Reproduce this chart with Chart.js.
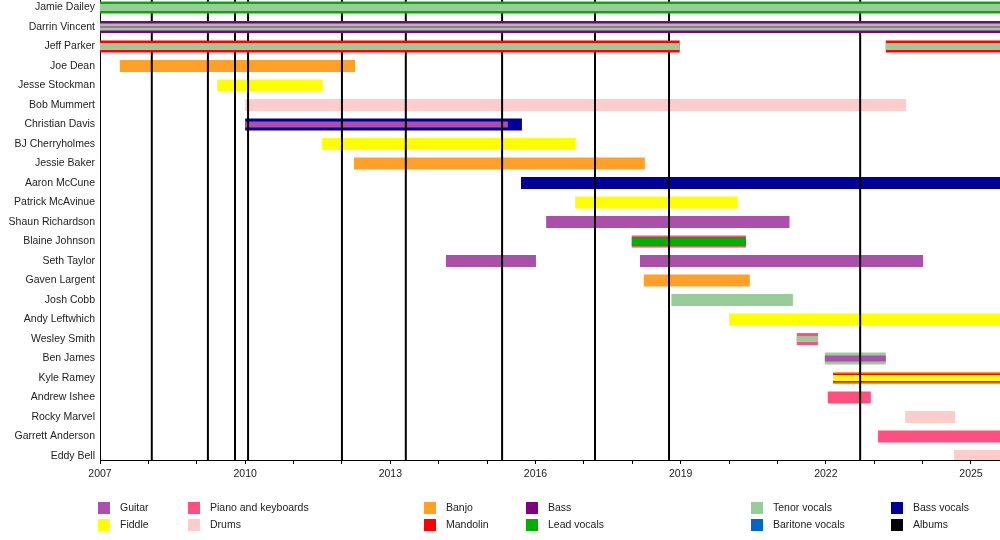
<!DOCTYPE html>
<html>
<head>
<meta charset="utf-8">
<script src="https://cdn.jsdelivr.net/npm/chart.js@4.4.1/dist/chart.umd.min.js"></script>
<style>
  body { margin: 0; background: #fff; }
  #wrap { width: 1000px; height: 540px; }
</style>
</head>
<body>
<div id="wrap"><canvas id="timeline"></canvas></div>
<script>
const members = [
  'Jamie Dailey', 'Darrin Vincent', 'Jeff Parker', 'Joe Dean', 'Jesse Stockman',
  'Bob Mummert', 'Christian Davis', 'BJ Cherryholmes', 'Jessie Baker', 'Aaron McCune',
  'Patrick McAvinue', 'Shaun Richardson', 'Blaine Johnson', 'Seth Taylor', 'Gaven Largent',
  'Josh Cobb', 'Andy Leftwhich', 'Wesley Smith', 'Ben James', 'Kyle Ramey',
  'Andrew Ishee', 'Rocky Marvel', 'Garrett Anderson', 'Eddy Bell'
];
const founders = ['Jamie Dailey', 'Darrin Vincent', 'Jeff Parker'];

const roles = [
  'Guitar', 'Fiddle', 'Piano and keyboards', 'Drums', 'Banjo', 'Mandolin',
  'Bass', 'Lead vocals', 'Tenor vocals', 'Baritone vocals', 'Bass vocals', 'Albums'
];
const roleColors = [
  '#aa4faa', '#ffff00', '#ff4f80', '#ffcccc', '#ffa028', '#ff0000',
  '#7f007f', '#00b000', '#99cc99', '#0066cc', '#000099', '#000000'
];

const tickLabels = ['2007', '2010', '2013', '2016', '2019', '2022', '2025'];
const start = 2007;
const present = 2025.6;

const albums = [2008.07, 2009.23, 2009.79, 2010.06, 2012.0, 2013.32, 2015.31, 2017.23, 2018.76, 2022.71];

// [member, from, to, role]
const mainBars = [
  ['Jamie Dailey', 2007, present, 'Lead vocals'],
  ['Darrin Vincent', 2007, present, 'Bass'],
  ['Jeff Parker', 2007, 2018.98, 'Mandolin'],
  ['Jeff Parker', 2023.24, present, 'Mandolin'],
  ['Joe Dean', 2007.41, 2012.27, 'Banjo'],
  ['Jesse Stockman', 2009.42, 2011.6, 'Fiddle'],
  ['Bob Mummert', 2010.0, 2023.66, 'Drums'],
  ['Christian Davis', 2010.0, 2015.72, 'Bass vocals'],
  ['BJ Cherryholmes', 2011.59, 2016.83, 'Fiddle'],
  ['Jessie Baker', 2012.25, 2018.26, 'Banjo'],
  ['Aaron McCune', 2015.7, present, 'Bass vocals'],
  ['Patrick McAvinue', 2016.82, 2020.18, 'Fiddle'],
  ['Shaun Richardson', 2016.22, 2021.25, 'Guitar'],
  ['Blaine Johnson', 2017.99, 2020.35, 'Piano and keyboards'],
  ['Seth Taylor', 2014.15, 2016.01, 'Guitar'],
  ['Seth Taylor', 2018.16, 2024.01, 'Guitar'],
  ['Gaven Largent', 2018.24, 2020.43, 'Banjo'],
  ['Josh Cobb', 2018.81, 2021.32, 'Tenor vocals'],
  ['Andy Leftwhich', 2020.0, present, 'Fiddle'],
  ['Wesley Smith', 2021.4, 2021.84, 'Piano and keyboards'],
  ['Ben James', 2021.98, 2023.24, 'Tenor vocals'],
  ['Kyle Ramey', 2022.15, present, 'Banjo'],
  ['Andrew Ishee', 2022.04, 2022.93, 'Piano and keyboards'],
  ['Rocky Marvel', 2023.64, 2024.67, 'Drums'],
  ['Garrett Anderson', 2023.08, present, 'Piano and keyboards'],
  ['Eddy Bell', 2024.65, present, 'Drums']
];

const wideBars = [
  ['Blaine Johnson', 2017.99, 2020.35, 'Lead vocals'],
  ['Kyle Ramey', 2022.15, present, 'Mandolin']
];

const innerBars = [
  ['Jamie Dailey', 2007, present, 'Tenor vocals'],
  ['Darrin Vincent', 2007, present, 'Tenor vocals'],
  ['Jeff Parker', 2007, 2018.98, 'Tenor vocals'],
  ['Jeff Parker', 2023.24, present, 'Tenor vocals'],
  ['Christian Davis', 2010.0, 2015.43, 'Guitar'],
  ['Wesley Smith', 2021.4, 2021.84, 'Tenor vocals'],
  ['Ben James', 2021.98, 2023.24, 'Guitar'],
  ['Kyle Ramey', 2022.15, present, 'Fiddle']
];

const thinBars = [
  ['Darrin Vincent', 2007, present, 'Guitar']
];

const colorOf = role => roleColors[roles.indexOf(role)];
const FONT = "'Liberation Sans', Arial, sans-serif";
const FONT_SIZE = 10.5;

function barSet(rows, thickness, order) {
  return {
    type: 'bar',
    indexAxis: 'y',
    grouped: false,
    barPercentage: 1,
    maxBarThickness: thickness,
    order: order,
    data: rows.map(r => ({ x: [r[1], r[2]], y: members.indexOf(r[0]) })),
    backgroundColor: rows.map(r => colorOf(r[3])),
    borderWidth: 0
  };
}

const isFounder = r => founders.includes(r[0]);
const notFounder = r => !founders.includes(r[0]);

// album release markers, drawn over the later members but under the founders
const albumLine = {
  type: 'line',
  order: 4,
  data: albums.flatMap(a => [{ x: a, y: -1 }, { x: a, y: members.length }, { x: null, y: null }]),
  borderColor: '#000',
  borderWidth: 2,
  pointRadius: 0,
  spanGaps: false,
  xAxisID: 'x',
  yAxisID: 'y'
};

const legendPlugin = {
  id: 'roleLegend',
  afterDraw(chart) {
    const ctx = chart.ctx;
    const cols = [98, 188, 424, 526, 751, 891];
    const top = chart.chartArea.bottom + 42;
    ctx.save();
    ctx.font = FONT_SIZE + 'px ' + FONT;
    ctx.textBaseline = 'middle';
    roles.forEach((role, i) => {
      const x = cols[Math.floor(i / 2)];
      const y = top + (i % 2) * 17;
      ctx.fillStyle = roleColors[i];
      ctx.fillRect(x, y, 12, 12);
      ctx.fillStyle = '#222';
      ctx.fillText(role, x + 22, y + 6.5);
    });
    ctx.restore();
  }
};

new Chart(document.getElementById('timeline'), {
  type: 'bar',
  data: {
    datasets: [
      barSet(mainBars.filter(notFounder), 12, 8),
      barSet(wideBars.filter(notFounder), 9, 7),
      barSet(innerBars.filter(notFounder), 6, 6),
      barSet(thinBars.filter(notFounder), 1.5, 5),
      albumLine,
      barSet(mainBars.filter(isFounder), 12, 3),
      barSet(innerBars.filter(isFounder), 7, 2),
      barSet(thinBars.filter(isFounder), 1.5, 1)
    ]
  },
  options: {
    responsive: true,
    maintainAspectRatio: false,
    animation: false,
    layout: { padding: 0 },
    plugins: {
      legend: { display: false },
      tooltip: { enabled: false }
    },
    scales: {
      x: {
        type: 'linear',
        position: 'bottom',
        offset: false,
        min: start,
        max: present,
        afterBuildTicks: s => {
          const t = [];
          for (let v = start; v <= present; v++) t.push({ value: v });
          s.ticks = t;
        },
        afterFit: s => { s.height = 80; s.paddingLeft = 0; s.paddingRight = 0; },
        border: { display: true, color: '#000', width: 1 },
        grid: { display: true, offset: false, drawOnChartArea: false, drawTicks: true, tickLength: 4, color: '#000' },
        ticks: {
          autoSkip: false,
          maxRotation: 0,
          padding: 4,
          color: '#222',
          font: { family: FONT, size: FONT_SIZE },
          callback: v => tickLabels.includes(String(v)) ? String(v) : ''
        }
      },
      y: {
        type: 'linear',
        position: 'left',
        offset: false,
        reverse: true,
        min: -0.38,
        max: 23.2,
        afterBuildTicks: s => { s.ticks = members.map((m, i) => ({ value: i })); },
        afterFit: s => { s.width = 100; s.paddingTop = 0; s.paddingBottom = 0; },
        border: { display: true, color: '#000', width: 1 },
        grid: { display: false, offset: false, drawTicks: false, tickLength: 0 },
        ticks: {
          autoSkip: false,
          padding: 5,
          color: '#222',
          font: { family: FONT, size: FONT_SIZE },
          callback: v => members[v] || ''
        }
      }
    }
  },
  plugins: [legendPlugin]
});
</script>
</body>
</html>
